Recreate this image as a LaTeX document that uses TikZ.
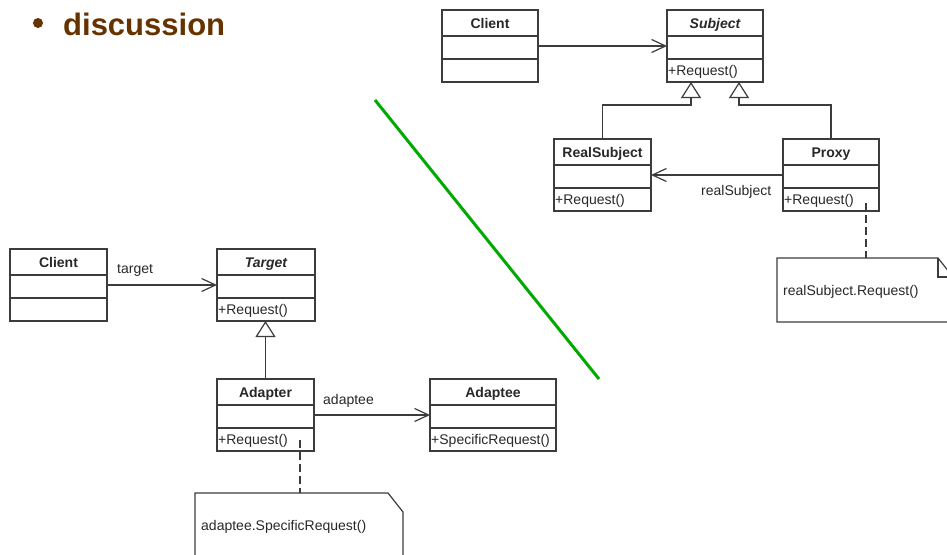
\documentclass[tikz,border=0pt]{standalone}
\usepackage{fontspec}
\setmainfont{Liberation Sans}
\usetikzlibrary{arrows.meta,calc}
\definecolor{brn}{RGB}{102,51,0}
\definecolor{lnc}{RGB}{60,60,60}
\definecolor{txc}{RGB}{40,40,40}
\definecolor{grn}{RGB}{0,170,0}
\tikzset{
  classbox/.style={draw=lnc, line width=1.2pt, fill=white, inner sep=0pt, outer sep=0pt, minimum height=72pt},
  divider/.style={draw=lnc, line width=1.2pt},
  classtitle/.style={font=\fontsize{14}{16}\selectfont\bfseries, text=txc, inner sep=0pt, text height=10pt, text depth=0pt},
  classop/.style={font=\fontsize{14}{16}\selectfont, text=txc, inner sep=1pt, text height=10pt, text depth=0pt},
  lbl/.style={font=\fontsize{14}{16}\selectfont, text=txc, inner sep=0pt, text height=10pt, text depth=0pt},
  assoc/.style={draw=lnc, line width=1.2pt, -{Straight Barb[length=14pt, width=13pt, line width=1.2pt]}},
  inherit/.style={draw=lnc, line width=1.2pt, -{Triangle[open, length=16pt, width=20pt, fill=white, line width=1.2pt]}},
  notelink/.style={draw=lnc, line width=1.2pt, dash pattern=on 8pt off 4pt},
  notebox/.style={inner sep=0pt, outer sep=0pt},
  noteline/.style={draw=lnc, line width=1.2pt, fill=white, line join=miter},
}
\newcommand\umlclass[6]{%
  \node[classbox, minimum width=#4pt, anchor=north west] (#1) at (#2,#3) {};
  \draw[divider] ([yshift=-26pt]#1.north west) -- ([yshift=-26pt]#1.north east);
  \draw[divider] ([yshift=-49pt]#1.north west) -- ([yshift=-49pt]#1.north east);
  \node[classtitle] (#1-t) at ([yshift=-13pt]#1.north) {#5};
  \node[classop, anchor=west] (#1-o) at ([yshift=-60.5pt]#1.north west) {#6};
}
\begin{document}
\begin{tikzpicture}[x=1pt, y=-1pt]
\useasboundingbox (0,0) rectangle (947,554);
\clip (0,0) rectangle (947,554);
\fill[white] (0,0) rectangle (947,554);

% heading
\fill[brn] (38,23) circle (5);
\node[anchor=base west, inner sep=0pt, font=\fontsize{31}{34}\selectfont\bfseries, text=brn] (head) at (63,35) {discussion};

% green divider
\draw[grn, line width=3pt] (375,100) -- (599,379);

% ---- Proxy pattern ----
\umlclass{clientA}{442}{10}{96}{Client}{}
\umlclass{subject}{667}{10}{96}{\itshape Subject}{+Request()}
\umlclass{realsubject}{554}{139}{97}{RealSubject}{+Request()}
\umlclass{proxy}{783}{139}{96}{Proxy}{+Request()}

\draw[assoc] (clientA.east) -- (subject.west);
\coordinate (sL) at ($(subject.south west)!0.25!(subject.south east)$);
\coordinate (sR) at ($(subject.south west)!0.75!(subject.south east)$);
\draw[inherit] (realsubject.north) -- (realsubject.north |- 0,105) -- (sL |- 0,105) -- (sL);
\draw[inherit] (proxy.north) -- (proxy.north |- 0,105) -- (sR |- 0,105) -- (sR);
\draw[assoc] (proxy.west) -- (realsubject.east);
\node[lbl, anchor=west] (rslbl) at (701,190) {realSubject};

% note 1
\node[notebox, minimum width=176pt, minimum height=64pt, anchor=north west] (noteA) at (777,258) {};
\draw[noteline] (noteA.north west) -- ([xshift=-15pt]noteA.north east) -- ([yshift=-19pt]noteA.north east) -- (noteA.south east) -- (noteA.south west) -- cycle;
\draw[noteline, fill=none] ([xshift=-15pt]noteA.north east) -- ([xshift=-15pt,yshift=-19pt]noteA.north east) -- ([yshift=-19pt]noteA.north east);
\node[lbl, anchor=west] (noteAt) at (783,290) {realSubject.Request()};
\coordinate (pA) at (866,203);
\draw[notelink] (pA) -- (pA |- noteA.north);

% ---- Adapter pattern ----
\umlclass{clientB}{10}{249}{97}{Client}{}
\umlclass{target}{217}{249}{98}{\itshape Target}{+Request()}
\umlclass{adapter}{217}{379}{97}{Adapter}{+Request()}
\umlclass{adaptee}{430}{379}{126}{Adaptee}{+SpecificRequest()}

\draw[assoc] (clientB.east) -- (target.west);
\node[lbl, anchor=west] (tlbl) at (117,268) {target};
\draw[inherit] (adapter.north) -- (adapter.north |- target.south);
\draw[assoc] (adapter.east) -- (adaptee.west);
\node[lbl, anchor=west] (albl) at (323,399.5) {adaptee};

% note 2
\node[notebox, minimum width=208pt, minimum height=90pt, anchor=north west] (noteB) at (195,493) {};
\draw[noteline] (noteB.north west) -- ([xshift=-15pt]noteB.north east) -- ([yshift=-19pt]noteB.north east) -- (noteB.south east) -- (noteB.south west) -- cycle;
\node[lbl, anchor=west] (noteBt) at (201,525) {adaptee.SpecificRequest()};
\coordinate (pB) at (300,440);
\draw[notelink] (pB) -- (pB |- noteB.north);
\end{tikzpicture}
\end{document}
